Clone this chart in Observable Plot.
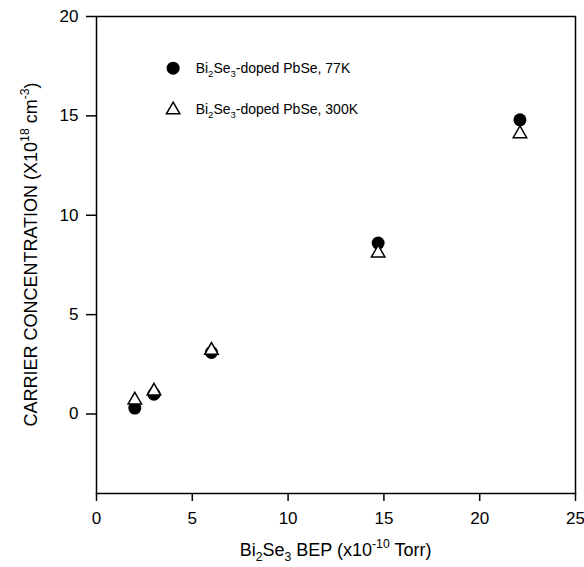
<!DOCTYPE html>
<html><head><meta charset="utf-8">
<script src="https://cdn.jsdelivr.net/npm/d3@7"></script>
<script src="https://cdn.jsdelivr.net/npm/@observablehq/plot@0.6"></script>
<style>body{margin:0;background:#fff;}</style>
</head><body><div id="chart"></div>
<script>
// Data
const bep = [2, 3, 6, 14.7, 22.1];            // Bi2Se3 BEP (x10^-10 Torr)
const conc77K = [0.3, 1.0, 3.1, 8.6, 14.8];   // carrier concentration at 77K (x10^18 cm^-3)
const conc300K = [0.7, 1.15, 3.2, 8.1, 14.1]; // carrier concentration at 300K
const xTicks = [0, 5, 10, 15, 20, 25];
const yTicks = [0, 5, 10, 15, 20];
const legendNames = ["77K", "300K"];
const legendPosX = [4, 4];
const legendPosY = [17.4, 15.3];

const d77 = bep.map((x, i) => ({x, y: conc77K[i]}));
const d300 = bep.map((x, i) => ({x, y: conc300K[i]}));
const legend = legendNames.map((n, i) => ({name: n, x: legendPosX[i], y: legendPosY[i]}));

const FONT = "'Liberation Sans', Arial, Helvetica, sans-serif";

const chart = Plot.plot({
  width: 584, height: 567,
  marginLeft: 96, marginRight: 9, marginTop: 16, marginBottom: 74,
  style: {fontFamily: FONT, color: "black", background: "white"},
  x: {domain: [0, 25]},
  y: {domain: [-4, 20]},
  marks: [
    Plot.frame({stroke: "black", strokeWidth: 1.5}),
    Plot.axisX({ticks: xTicks, tickSize: 8, tickPadding: 10, fontSize: 17, label: null, strokeWidth: 1.5}),
    Plot.axisY({ticks: yTicks, tickSize: 10, tickPadding: 8, fontSize: 17, label: null, strokeWidth: 1.5}),
    Plot.dot(d77, {x: "x", y: "y", r: 6.5, symbol: "circle", fill: "black"}),
    Plot.dot(d300, {x: "x", y: "y", r: 5, symbol: "triangle", fill: "white", stroke: "black", strokeWidth: 1.5}),
    Plot.dot(legend.slice(0, 1), {x: "x", y: "y", r: 6.5, symbol: "circle", fill: "black"}),
    Plot.dot(legend.slice(1), {x: "x", y: "y", r: 5, symbol: "triangle", fill: "white", stroke: "black", strokeWidth: 1.5})
  ]
});
document.getElementById("chart").appendChild(chart);

const svg = d3.select(chart);
const sx = chart.scale("x"), sy = chart.scale("y");

function rich(sel, segs, fs) {
  let off = 0;
  segs.forEach(s => {
    const target = s.v === 1 ? -0.42 * fs : s.v === -1 ? 0.28 * fs : 0;
    const ts = sel.append("tspan").text(s.t).attr("dy", target - off);
    if (s.v) ts.attr("font-size", fs * 0.68);
    off = target;
  });
  return sel;
}
const biSe = [{t: "Bi"}, {t: "2", v: -1}, {t: "Se"}, {t: "3", v: -1}];

// Legend labels
legend.forEach(d => {
  const t = svg.append("text")
    .attr("x", sx.apply(d.x) + 23).attr("y", sy.apply(d.y) + 5)
    .attr("text-anchor", "start")
    .attr("font-family", FONT).attr("font-size", 14).attr("fill", "black");
  rich(t, [...biSe, {t: "-doped PbSe, " + d.name}], 14);
});

// X axis title
const xt = svg.append("text")
  .attr("x", (sx.range[0] + sx.range[1]) / 2).attr("y", 556)
  .attr("text-anchor", "middle").attr("font-family", FONT).attr("font-size", 18).attr("fill", "black");
rich(xt, [...biSe, {t: " BEP (x10"}, {t: "-10", v: 1}, {t: " Torr)"}], 18);

// Y axis title
const yt = svg.append("text")
  .attr("transform", `translate(37,${(sy.range[0] + sy.range[1]) / 2}) rotate(-90)`)
  .attr("text-anchor", "middle").attr("font-family", FONT).attr("font-size", 18).attr("fill", "black");
rich(yt, [{t: "CARRIER CONCENTRATION (X10"}, {t: "18", v: 1}, {t: " cm"}, {t: "-3", v: 1}, {t: ")"}], 18);
</script>
</body></html>
